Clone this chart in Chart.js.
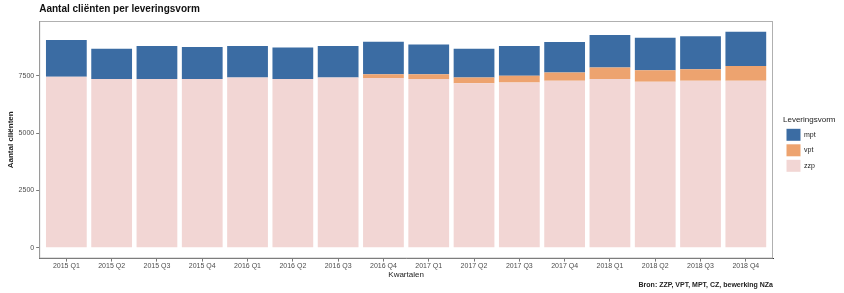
<!DOCTYPE html>
<html>
<head>
<meta charset="utf-8">
<script src="https://cdn.jsdelivr.net/npm/chart.js@4/dist/chart.umd.min.js"></script>
<style>
  html, body { margin: 0; padding: 0; background: #fff; }
  #wrap { width: 844px; height: 293px; }
</style>
</head>
<body>
<div id="wrap"><canvas id="chart"></canvas></div>
<script>
const quarters = ['2015 Q1', '2015 Q2', '2015 Q3', '2015 Q4', '2016 Q1', '2016 Q2', '2016 Q3', '2016 Q4',
  '2017 Q1', '2017 Q2', '2017 Q3', '2017 Q4', '2018 Q1', '2018 Q2', '2018 Q3', '2018 Q4'];

// clients per delivery form
const zzp = [7460, 7360, 7360, 7360, 7430, 7360, 7430, 7400, 7360, 7180, 7210, 7280, 7360, 7240, 7280, 7280];
const vpt = [0, 0, 0, 0, 0, 0, 0, 170, 210, 250, 290, 360, 500, 500, 510, 650];
const mpt = [1600, 1320, 1440, 1400, 1370, 1370, 1370, 1420, 1300, 1250, 1300, 1330, 1420, 1420, 1440, 1490];

const yTicks = [0, 2500, 5000, 7500];

const textColor = '#4d4d4d';
const axisColor = '#7a7a7a';

const toPoints = arr => arr.map((v, i) => ({ x: i, y: v }));

// ggplot-like panel border
const panelBorder = {
  id: 'panelBorder',
  afterDraw(chart) {
    const { ctx, chartArea: a } = chart;
    ctx.save();
    ctx.strokeStyle = '#b0b0b0';
    ctx.lineWidth = 1;
    ctx.strokeRect(a.left + 0.5, a.top + 0.5, a.right - a.left - 1, a.bottom - a.top - 1);
    ctx.restore();
  }
};

// legend box is sized from the items only, make room for the title too
const legendWidth = {
  id: 'legendWidth',
  beforeLayout(chart) {
    const legend = chart.legend;
    if (!legend || legend._widthPatched) return;
    const fit = legend.fit.bind(legend);
    legend.fit = function () {
      fit();
      this.width = Math.max(this.width, 61);
    };
    legend._widthPatched = true;
  }
};

new Chart(document.getElementById('chart'), {
  type: 'bar',
  data: {
    datasets: [
      { label: 'zzp', data: toPoints(zzp), backgroundColor: '#f2d6d4' },
      { label: 'vpt', data: toPoints(vpt), backgroundColor: '#eda36f' },
      { label: 'mpt', data: toPoints(mpt), backgroundColor: '#3b6ca3' }
    ]
  },
  options: {
    responsive: true,
    maintainAspectRatio: false,
    animation: false,
    barPercentage: 0.9,
    categoryPercentage: 1.0,
    layout: { padding: { left: 6, right: 0, top: 0, bottom: 2 } },
    plugins: {
      title: {
        display: true,
        text: 'Aantal cliënten per leveringsvorm',
        align: 'start',
        fullSize: false,
        color: '#111',
        font: { family: 'Liberation Sans', size: 10, weight: 'bold' },
        padding: { top: 3, bottom: 6 }
      },
      subtitle: {
        display: true,
        text: 'Bron: ZZP, VPT, MPT, CZ, bewerking NZa',
        position: 'bottom',
        align: 'end',
        fullSize: false,
        color: '#222',
        font: { family: 'Liberation Sans', size: 7, weight: 'bold' },
        padding: { top: 1, bottom: 2 }
      },
      legend: {
        position: 'right',
        reverse: true,
        title: {
          display: true,
          text: 'Leveringsvorm',
          position: 'start',
          color: '#222',
          font: { family: 'Liberation Sans', size: 8 },
          padding: { top: 0, bottom: 0 }
        },
        labels: {
          color: '#222',
          boxWidth: 14,
          boxHeight: 12,
          padding: 3.5,
          font: { family: 'Liberation Sans', size: 7 }
        }
      },
      tooltip: { enabled: false }
    },
    scales: {
      x: {
        type: 'linear',
        stacked: true,
        offset: false,
        min: -0.6,
        max: 15.6,
        grid: { display: true, offset: false, drawOnChartArea: false, tickLength: 3, color: axisColor },
        border: { color: '#333', width: 1 },
        ticks: {
          stepSize: 1,
          includeBounds: false,
          autoSkip: false,
          maxRotation: 0,
          padding: 0,
          color: textColor,
          font: { family: 'Liberation Sans', size: 7 },
          callback: v => Number.isInteger(v) && quarters[v] ? quarters[v] : ''
        },
        title: {
          display: true,
          text: 'Kwartalen',
          color: '#222',
          font: { family: 'Liberation Sans', size: 8 },
          padding: { top: 0, bottom: 0 }
        }
      },
      y: {
        stacked: true,
        min: -471,
        max: 9891,
        grid: { display: true, drawOnChartArea: false, tickLength: 3, color: axisColor },
        border: { color: '#333', width: 1 },
        afterBuildTicks: scale => { scale.ticks = yTicks.map(v => ({ value: v })); },
        ticks: {
          color: textColor,
          padding: 2,
          font: { family: 'Liberation Sans', size: 7 },
          callback: v => String(v)
        },
        title: {
          display: true,
          text: 'Aantal cliënten',
          color: '#222',
          font: { family: 'Liberation Sans', size: 8, weight: 'bold' },
          padding: { top: 0, bottom: 1 }
        }
      },
      // empty spacer between panel and legend
      gap: {
        type: 'linear',
        position: 'right',
        grid: { display: false },
        border: { display: false },
        ticks: { display: false },
        afterFit: scale => { scale.width = 10; }
      }
    }
  },
  plugins: [panelBorder, legendWidth]
});
</script>
</body>
</html>
